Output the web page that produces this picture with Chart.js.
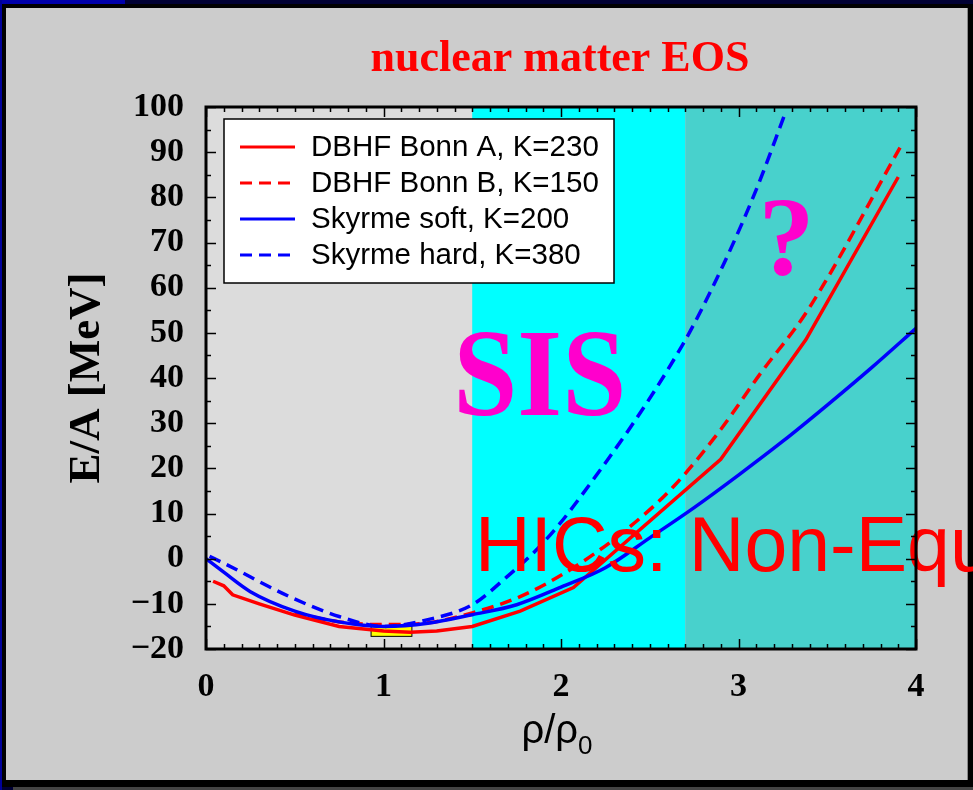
<!DOCTYPE html>
<html>
<head>
<meta charset="utf-8">
<script src="https://cdn.jsdelivr.net/npm/chart.js@4.4.1/dist/chart.umd.min.js"></script>
<style>
  html, body { margin: 0; padding: 0; }
  body { width: 973px; height: 790px; background: #000033; position: relative; overflow: hidden; }
  #topBlue { position: absolute; left: 0; top: 0; width: 125px; height: 4px; background: #0000aa; }
  #leftBlue { position: absolute; left: 0; top: 0; width: 2px; height: 790px; background: #000099; }
  #frame { position: absolute; left: 2px; top: 4px; width: 971px; height: 783px; background: #000; }
  #panel { position: absolute; left: 6px; top: 8px; width: 961px; height: 772px; background: #cccccc; border-right: 1px solid #8a8a8a; }
  #bottomStrip { position: absolute; left: 13px; top: 787px; width: 960px; height: 3px; background: #444; }
  #eos { position: absolute; left: 0; top: 0; }
</style>
</head>
<body>
<div id="topBlue"></div>
<div id="leftBlue"></div>
<div id="frame"></div>
<div id="panel"></div>
<div id="bottomStrip"></div>
<canvas id="eos" width="973" height="790"></canvas>
<script>
// nuclear matter EOS, E/A vs rho/rho0

// --- data
const rhoBonnA = [0.04, 0.1, 0.15, 0.3, 0.5, 0.75, 1.0, 1.15, 1.3, 1.5, 1.77, 2.07, 2.9, 3.38, 3.9];
const eBonnA   = [-5, -6, -8, -10, -12.5, -15, -16, -16.3, -16, -15, -11.6, -6.4, 22, 48.5, 84.5];

const rhoBonnB = [0.5, 0.75, 1.0, 1.25, 1.5, 1.77, 2.07, 2.37, 2.63, 2.9, 3.12, 3.39, 3.91];
const eBonnB   = [-12, -14, -14.6, -14.2, -12, -8.4, -2, 6.5, 15.8, 28.6, 40.8, 55, 91];

const rhoSoft = [0, 0.1, 0.25, 0.5, 0.75, 1.0, 1.25, 1.5, 1.75, 2.0, 2.25, 2.5, 2.75, 3.0, 3.25, 3.5, 3.75, 4.0];
const eSoft   = [0, -3, -7.3, -11.6, -14, -15, -14.3, -12.4, -10.2, -6.3, -2, 4.6, 11.3, 18.5, 26, 34, 42.3, 51];

const rhoHard = [0.02, 0.1, 0.47, 0.75, 1.0, 1.25, 1.5, 1.69, 1.88, 2.07, 2.68, 2.91, 3.1, 3.26];
const eHard   = [0.5, -1, -8.4, -12.8, -15, -13.5, -10.2, -4.2, 2.7, 11.6, 47, 64.7, 81.7, 98.3];

const seriesLabels = ['DBHF Bonn A, K=230', 'DBHF Bonn B, K=150', 'Skyrme soft, K=200', 'Skyrme hard, K=380'];

const xTickValues = [0, 1, 2, 3, 4];
const yTickValues = [-20, -10, 0, 10, 20, 30, 40, 50, 60, 70, 80, 90, 100];

// density regions: plain / SIS / beyond
const regionEdges = [0, 1.5, 2.7, 4];
const regionColors = ['#dcdcdc', '#00ffff', '#48d1cc'];

// empirical saturation box
const satRho = [0.93, 1.16];
const satE = [-17.2, -15];

function toPoints(xs, ys) {
  return xs.map((v, i) => ({x: v, y: ys[i]}));
}

const RED = '#ff0000';
const BLUE = '#0000ff';
const MAGENTA = '#ff00cc';
const dash = [12, 7];

const datasets = [
  {label: seriesLabels[0], data: toPoints(rhoBonnA, eBonnA), borderColor: RED, borderDash: [], tension: 0, order: 3},
  {label: seriesLabels[1], data: toPoints(rhoBonnB, eBonnB), borderColor: RED, borderDash: dash, cubicInterpolationMode: 'monotone', order: 2},
  {label: seriesLabels[2], data: toPoints(rhoSoft, eSoft), borderColor: BLUE, borderDash: [], cubicInterpolationMode: 'monotone', order: 1},
  {label: seriesLabels[3], data: toPoints(rhoHard, eHard), borderColor: BLUE, borderDash: dash, cubicInterpolationMode: 'monotone', order: 0}
];
datasets.forEach(d => {
  d.borderWidth = 3.5;
  d.pointRadius = 0;
  d.fill = false;
});

//-----BACKGROUND, BOX, TEXTS
const backPlugin = {
  id: 'backPlugin',
  beforeDatasetsDraw(chart) {
    const {ctx, chartArea: a, scales: {x, y}} = chart;
    ctx.save();
    for (let i = 0; i < regionColors.length; i++) {
      const x0 = x.getPixelForValue(regionEdges[i]);
      const x1 = x.getPixelForValue(regionEdges[i + 1]);
      ctx.fillStyle = regionColors[i];
      ctx.fillRect(x0, a.top, x1 - x0, a.bottom - a.top);
    }

    // saturation box
    const bx0 = x.getPixelForValue(satRho[0]);
    const bx1 = x.getPixelForValue(satRho[1]);
    const by0 = y.getPixelForValue(satE[1]);
    const by1 = y.getPixelForValue(satE[0]);
    ctx.fillStyle = '#ffff00';
    ctx.fillRect(bx0, by0, bx1 - bx0, by1 - by0);
    ctx.strokeStyle = '#000';
    ctx.lineWidth = 1;
    ctx.strokeRect(bx0, by0, bx1 - bx0, by1 - by0);

    // labels inside the plot
    ctx.textBaseline = 'alphabetic';
    ctx.textAlign = 'center';
    ctx.fillStyle = MAGENTA;
    ctx.font = 'bold 124px "Liberation Serif"';
    ctx.save();
    ctx.translate(x.getPixelForValue(1.88), y.getPixelForValue(31.8));
    ctx.scale(0.93, 1);
    ctx.fillText('SIS', 0, 0);
    ctx.restore();

    ctx.font = 'bold 112px "Liberation Serif"';
    ctx.fillText('?', x.getPixelForValue(3.27), y.getPixelForValue(63));
    ctx.restore();
  },
  afterDatasetsDraw(chart) {
    const {ctx, scales: {x, y}} = chart;
    ctx.save();
    ctx.fillStyle = RED;
    ctx.textAlign = 'left';
    ctx.textBaseline = 'alphabetic';
    ctx.font = '77px "Liberation Sans"';
    ctx.fillText('HICs: Non-Equilibrium', x.getPixelForValue(1.515), y.getPixelForValue(-2.8));
    ctx.restore();
  }
};

//-----FRAME, TICKS, AXIS TITLES, LEGEND
const framePlugin = {
  id: 'framePlugin',
  afterDraw(chart) {
    const {ctx, chartArea: a, scales: {x, y}} = chart;
    ctx.save();
    ctx.strokeStyle = '#000';
    ctx.lineWidth = 1.5;
    ctx.beginPath();
    for (let i = 0; i <= 40; i++) {
      const v = i / 10;
      const px = Math.round(x.getPixelForValue(v)) + 0.5;
      const len = i % 10 === 0 ? 10 : 5;
      ctx.moveTo(px, a.bottom); ctx.lineTo(px, a.bottom - len);
      ctx.moveTo(px, a.top); ctx.lineTo(px, a.top + len);
    }
    for (let v = -20; v <= 100; v += 5) {
      const py = Math.round(y.getPixelForValue(v)) + 0.5;
      const len = v % 10 === 0 ? 10 : 5;
      ctx.moveTo(a.left, py); ctx.lineTo(a.left + len, py);
      ctx.moveTo(a.right, py); ctx.lineTo(a.right - len, py);
    }
    ctx.stroke();
    ctx.lineWidth = 3;
    ctx.strokeRect(a.left, a.top, a.right - a.left, a.bottom - a.top);

    // title
    ctx.fillStyle = RED;
    ctx.textAlign = 'center';
    ctx.textBaseline = 'alphabetic';
    ctx.font = 'bold 44px "Liberation Serif"';
    ctx.fillText('nuclear matter EOS', 560, 71);

    // y title
    ctx.fillStyle = '#000';
    ctx.save();
    ctx.translate(99, 378);
    ctx.rotate(-Math.PI / 2);
    ctx.font = 'bold 45px "Liberation Serif"';
    ctx.fillText('E/A [MeV]', 0, 0);
    ctx.restore();

    // x title with subscript
    ctx.textAlign = 'left';
    ctx.font = '40px "Liberation Sans"';
    const main = '\u03c1/\u03c1';
    const w = ctx.measureText(main).width;
    ctx.font = '26px "Liberation Sans"';
    const ws = ctx.measureText('0').width;
    const sx = 557 - (w + ws) / 2;
    ctx.font = '40px "Liberation Sans"';
    ctx.fillText(main, sx, 743);
    ctx.font = '26px "Liberation Sans"';
    ctx.fillText('0', sx + w, 754);

    // legend box
    const lx = 224, ly = 119, lw = 390, lh = 164;
    ctx.fillStyle = '#fff';
    ctx.fillRect(lx, ly, lw, lh);
    ctx.lineWidth = 1.5;
    ctx.strokeStyle = '#000';
    ctx.strokeRect(lx, ly, lw, lh);
    ctx.font = '29.5px "Liberation Sans"';
    ctx.textBaseline = 'middle';
    chart.data.datasets.forEach((d, i) => {
      const rowY = 147 + i * 36;
      ctx.strokeStyle = d.borderColor;
      ctx.lineWidth = 3;
      ctx.setLineDash(d.borderDash);
      ctx.beginPath();
      ctx.moveTo(240, rowY);
      ctx.lineTo(295, rowY);
      ctx.stroke();
      ctx.setLineDash([]);
      ctx.fillStyle = '#000';
      ctx.fillText(d.label, 311, rowY + 1);
    });
    ctx.restore();
  }
};

const ctx = document.getElementById('eos').getContext('2d');
const chart = new Chart(ctx, {
  type: 'line',
  data: {datasets: datasets},
  plugins: [backPlugin, framePlugin],
  options: {
    responsive: false,
    animation: false,
    devicePixelRatio: 1,
    layout: {padding: {left: 0, top: 107, right: 57, bottom: 0}},
    plugins: {legend: {display: false}, tooltip: {enabled: false}},
    scales: {
      x: {
        type: 'linear',
        min: 0,
        max: 4,
        afterFit: (s) => { s.height = 141; },
        afterBuildTicks: (s) => { s.ticks = xTickValues.map(v => ({value: v})); },
        grid: {display: false, drawTicks: false},
        border: {display: false},
        ticks: {
          padding: 18,
          maxRotation: 0,
          color: '#000',
          font: {family: 'Liberation Serif', weight: 'bold', size: 34}
        }
      },
      y: {
        type: 'linear',
        min: -20,
        max: 100,
        afterFit: (s) => { s.width = 206; },
        afterBuildTicks: (s) => { s.ticks = yTickValues.map(v => ({value: v})); },
        grid: {display: false, drawTicks: false},
        border: {display: false},
        ticks: {
          padding: 22,
          color: '#000',
          font: {family: 'Liberation Serif', weight: 'bold', size: 34},
          callback: (v) => v < 0 ? '\u2212' + Math.abs(v) : String(v)
        }
      }
    }
  }
});
</script>
</body>
</html>
